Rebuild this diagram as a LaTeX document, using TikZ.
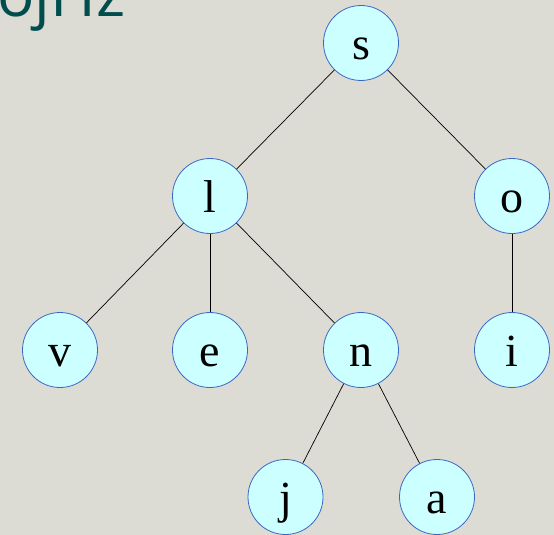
\documentclass[tikz,border=0pt]{standalone}
\usepackage{fontspec}
\setmainfont{Liberation Serif}
\newfontfamily\titlefont{Open Sans}
\definecolor{bgc}{HTML}{DCDCD5}
\definecolor{nodefill}{HTML}{CCFFFF}
\definecolor{nodeline}{HTML}{3A66C4}
\definecolor{titlec}{HTML}{004D4D}
\tikzset{
  tnode/.style={circle, draw=nodeline, fill=nodefill, line width=0.8pt, minimum size=75pt, inner sep=0pt, text height=38pt, text depth=5pt, font=\fontsize{46}{46}\selectfont},
  edge/.style={draw=black, line width=0.7pt}
}
\begin{document}
\begin{tikzpicture}[x=1pt,y=-1pt]
\fill[bgc] (0,0) rectangle (554,535);
\useasboundingbox (0,0) rectangle (554,535);
\begin{scope}
\clip (0,0) rectangle (554,535);
\node[anchor=base west, inner sep=0pt, text=titlec, font=\titlefont\fontsize{62}{62}\selectfont] (title) at (-3,17) {ojHz};
\end{scope}
\node[tnode] (s) at (361,43) {s};
\node[tnode] (l) at (210,196) {l};
\node[tnode] (o) at (512,196) {o};
\node[tnode] (v) at (60,350) {v};
\node[tnode] (e) at (210,350) {e};
\node[tnode] (n) at (361,350) {n};
\node[tnode] (i) at (512,350) {i};
\node[tnode] (j) at (285.5,497) {j};
\node[tnode] (a) at (437,497) {a};
\draw[edge] (s) -- (l);
\draw[edge] (s) -- (o);
\draw[edge] (l) -- (v);
\draw[edge] (l) -- (e);
\draw[edge] (l) -- (n);
\draw[edge] (o) -- (i);
\draw[edge] (n) -- (j);
\draw[edge] (n) -- (a);
\end{tikzpicture}
\end{document}
